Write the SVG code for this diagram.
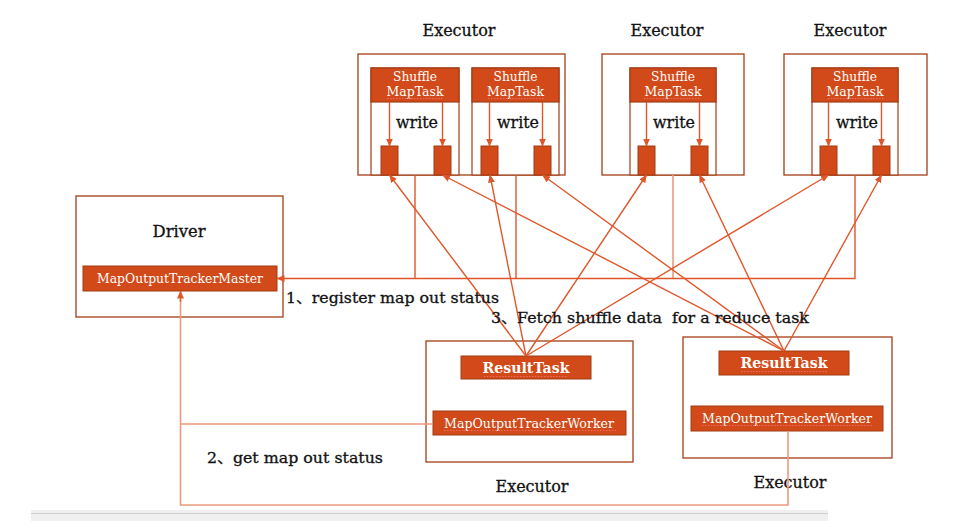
<svg xmlns="http://www.w3.org/2000/svg" width="968" height="527" viewBox="0 0 968 527">
<defs>
<style>
.box{fill:#fff;stroke:#A23D14;stroke-width:1.3}
.panel{fill:#fff;stroke:#A23D14;stroke-width:1.2}
.hdr{fill:#D24A19;stroke:#A23D14;stroke-width:1.2}
.blk{fill:#D24A19;stroke:#A23D14;stroke-width:1}
.con{fill:none;stroke:#E0562A;stroke-width:1.4}
.lcon{fill:none;stroke:#EE9A7C;stroke-width:1.6}
.t{font-family:"DejaVu Serif","Liberation Serif","Noto Sans CJK SC",serif;fill:#111;stroke:#111;stroke-width:0.3}
.w{font-family:"DejaVu Serif","Liberation Serif",serif;fill:#fff}
.pre{white-space:pre}
.sp{fill:none;stroke:#F46A6A;stroke-width:1.2;stroke-dasharray:1.5 1.5}
</style>
<marker id="ah" markerWidth="8" markerHeight="7" refX="7.5" refY="3.5" orient="auto" markerUnits="userSpaceOnUse">
<path d="M0,0 L8,3.5 L0,7 Z" fill="#E0562A"/>
</marker>
</defs>
<rect width="968" height="527" fill="#fff"/>

<!-- bottom gray bar -->
<rect x="31" y="510" width="797" height="11" fill="#F0F0F0"/>
<line x1="31" y1="513.5" x2="828" y2="513.5" stroke="#D0D0D0" stroke-width="1"/>

<!-- Executor 1 (top) -->
<g id="executor1">
<rect class="box" x="358" y="54" width="207" height="121"/>
<text class="t" x="459" y="36" font-size="16" text-anchor="middle" textLength="73" lengthAdjust="spacingAndGlyphs">Executor</text>
<g id="smt1">
<rect class="panel" x="371" y="68" width="88" height="107"/>
<rect class="hdr" x="371" y="68" width="88" height="34"/>
<text class="w" x="415" y="81" font-size="13" text-anchor="middle" textLength="44" lengthAdjust="spacingAndGlyphs">Shuffle</text>
<text class="w" x="415" y="96" font-size="13" text-anchor="middle" textLength="57" lengthAdjust="spacingAndGlyphs">MapTask</text>
<line class="sp" x1="387" y1="98.5" x2="444" y2="98.5"/>
<rect class="blk" x="381" y="146" width="17" height="29"/>
<rect class="blk" x="434" y="146" width="17" height="29"/>
<text class="t" x="417" y="128" font-size="16" text-anchor="middle" textLength="42" lengthAdjust="spacingAndGlyphs">write</text>
</g>
<g id="smt2">
<rect class="panel" x="472" y="68" width="87" height="107"/>
<rect class="hdr" x="472" y="68" width="87" height="34"/>
<text class="w" x="515.5" y="81" font-size="13" text-anchor="middle" textLength="44" lengthAdjust="spacingAndGlyphs">Shuffle</text>
<text class="w" x="515.5" y="96" font-size="13" text-anchor="middle" textLength="57" lengthAdjust="spacingAndGlyphs">MapTask</text>
<line class="sp" x1="488" y1="98.5" x2="544" y2="98.5"/>
<rect class="blk" x="481" y="146" width="17" height="29"/>
<rect class="blk" x="534" y="146" width="17" height="29"/>
<text class="t" x="518" y="128" font-size="16" text-anchor="middle" textLength="42" lengthAdjust="spacingAndGlyphs">write</text>
</g>
</g>

<!-- Executor 2 (top) -->
<g id="executor2">
<rect class="box" x="602" y="54" width="142" height="121"/>
<text class="t" x="667" y="36" font-size="16" text-anchor="middle" textLength="73" lengthAdjust="spacingAndGlyphs">Executor</text>
<rect class="panel" x="630" y="68" width="86" height="107"/>
<rect class="hdr" x="630" y="68" width="86" height="34"/>
<text class="w" x="673" y="81" font-size="13" text-anchor="middle" textLength="44" lengthAdjust="spacingAndGlyphs">Shuffle</text>
<text class="w" x="673" y="96" font-size="13" text-anchor="middle" textLength="57" lengthAdjust="spacingAndGlyphs">MapTask</text>
<line class="sp" x1="644" y1="98.5" x2="701" y2="98.5"/>
<rect class="blk" x="638" y="146" width="17" height="29"/>
<rect class="blk" x="691" y="146" width="17" height="29"/>
<text class="t" x="674" y="128" font-size="16" text-anchor="middle" textLength="42" lengthAdjust="spacingAndGlyphs">write</text>
</g>

<!-- Executor 3 (top) -->
<g id="executor3">
<rect class="box" x="784" y="54" width="143" height="121"/>
<text class="t" x="850" y="36" font-size="16" text-anchor="middle" textLength="73" lengthAdjust="spacingAndGlyphs">Executor</text>
<rect class="panel" x="812" y="68" width="86" height="107"/>
<rect class="hdr" x="812" y="68" width="86" height="34"/>
<text class="w" x="855" y="81" font-size="13" text-anchor="middle" textLength="44" lengthAdjust="spacingAndGlyphs">Shuffle</text>
<text class="w" x="855" y="96" font-size="13" text-anchor="middle" textLength="57" lengthAdjust="spacingAndGlyphs">MapTask</text>
<line class="sp" x1="828" y1="98.5" x2="884" y2="98.5"/>
<rect class="blk" x="820" y="146" width="17" height="29"/>
<rect class="blk" x="873" y="146" width="17" height="29"/>
<text class="t" x="857" y="128" font-size="16" text-anchor="middle" textLength="42" lengthAdjust="spacingAndGlyphs">write</text>
</g>

<!-- Driver -->
<g id="driver">
<rect class="box" x="76" y="196" width="207" height="121"/>
<text class="t" x="179" y="237" font-size="16" text-anchor="middle" textLength="53" lengthAdjust="spacingAndGlyphs">Driver</text>
<rect class="blk" x="83" y="266" width="194" height="25"/>
<text class="w" x="180" y="283" font-size="13" text-anchor="middle" textLength="166" lengthAdjust="spacingAndGlyphs">MapOutputTrackerMaster</text>
</g>

<!-- Bottom executor 1 -->
<g id="executor4">
<rect class="box" x="426" y="341" width="207" height="121"/>
<rect class="blk" x="461" y="356" width="130" height="23"/>
<text class="w" x="526" y="373" font-size="15" font-weight="bold" text-anchor="middle" textLength="87" lengthAdjust="spacingAndGlyphs">ResultTask</text>
<line class="sp" x1="484" y1="376.5" x2="568" y2="376.5"/>
<rect class="blk" x="433" y="411" width="193" height="24"/>
<text class="w" x="529" y="428" font-size="13" text-anchor="middle" textLength="170" lengthAdjust="spacingAndGlyphs">MapOutputTrackerWorker</text>
<line class="sp" x1="444" y1="430.5" x2="616" y2="430.5"/>
<text class="t" x="532" y="492" font-size="16" text-anchor="middle" textLength="73" lengthAdjust="spacingAndGlyphs">Executor</text>
</g>

<!-- Bottom executor 2 -->
<g id="executor5">
<rect class="box" x="683" y="337" width="209" height="121"/>
<rect class="blk" x="719" y="351" width="130" height="24"/>
<text class="w" x="784" y="368" font-size="15" font-weight="bold" text-anchor="middle" textLength="87" lengthAdjust="spacingAndGlyphs">ResultTask</text>
<line class="sp" x1="741" y1="371.5" x2="827" y2="371.5"/>
<rect class="blk" x="691" y="406" width="192" height="25"/>
<text class="w" x="787" y="423" font-size="13" text-anchor="middle" textLength="170" lengthAdjust="spacingAndGlyphs">MapOutputTrackerWorker</text>
<line class="sp" x1="702" y1="425.5" x2="872" y2="425.5"/>
<text class="t" x="790" y="488" font-size="16" text-anchor="middle" textLength="73" lengthAdjust="spacingAndGlyphs">Executor</text>
</g>

<!-- Connectors -->
<g id="connectors">
<line class="con" x1="389.5" y1="102" x2="389.5" y2="146" marker-end="url(#ah)"/>
<line class="con" x1="442.5" y1="102" x2="442.5" y2="146" marker-end="url(#ah)"/>
<line class="con" x1="489.5" y1="102" x2="489.5" y2="146" marker-end="url(#ah)"/>
<line class="con" x1="542.5" y1="102" x2="542.5" y2="146" marker-end="url(#ah)"/>
<line class="con" x1="646.5" y1="102" x2="646.5" y2="146" marker-end="url(#ah)"/>
<line class="con" x1="699.5" y1="102" x2="699.5" y2="146" marker-end="url(#ah)"/>
<line class="con" x1="828.5" y1="102" x2="828.5" y2="146" marker-end="url(#ah)"/>
<line class="con" x1="881.5" y1="102" x2="881.5" y2="146" marker-end="url(#ah)"/>
<path class="con" d="M415,175 V278.5"/>
<path class="con" d="M516,175 V278.5"/>
<path class="lcon" d="M673,175 V278.5"/>
<path class="con" d="M855,175 V278.5 H277" marker-end="url(#ah)"/>
<line class="con" x1="526" y1="356" x2="389.5" y2="175" marker-end="url(#ah)"/>
<line class="con" x1="526" y1="356" x2="490" y2="175" marker-end="url(#ah)"/>
<line class="con" x1="526" y1="356" x2="646.5" y2="175" marker-end="url(#ah)"/>
<line class="con" x1="526" y1="356" x2="828.5" y2="175" marker-end="url(#ah)"/>
<line class="con" x1="784" y1="351" x2="442.5" y2="175" marker-end="url(#ah)"/>
<line class="con" x1="784" y1="351" x2="542.5" y2="175" marker-end="url(#ah)"/>
<line class="con" x1="784" y1="351" x2="699.5" y2="175" marker-end="url(#ah)"/>
<line class="con" x1="784" y1="351" x2="881.5" y2="175" marker-end="url(#ah)"/>
<path class="lcon" d="M433,424 H180.5"/>
<path class="lcon" d="M788,431 V505 H180.5 V300"/>
<path class="con" d="M180.5,302 V291" marker-end="url(#ah)"/>
</g>

<!-- Labels -->
<text class="t" x="286" y="303" font-size="15" textLength="213" lengthAdjust="spacingAndGlyphs">1、register map out status</text>
<text class="t pre" x="491" y="323" font-size="15" textLength="318" lengthAdjust="spacingAndGlyphs">3、Fetch shuffle data  for a reduce task</text>
<text class="t" x="207" y="463" font-size="15" textLength="176" lengthAdjust="spacingAndGlyphs">2、get map out status</text>
</svg>
